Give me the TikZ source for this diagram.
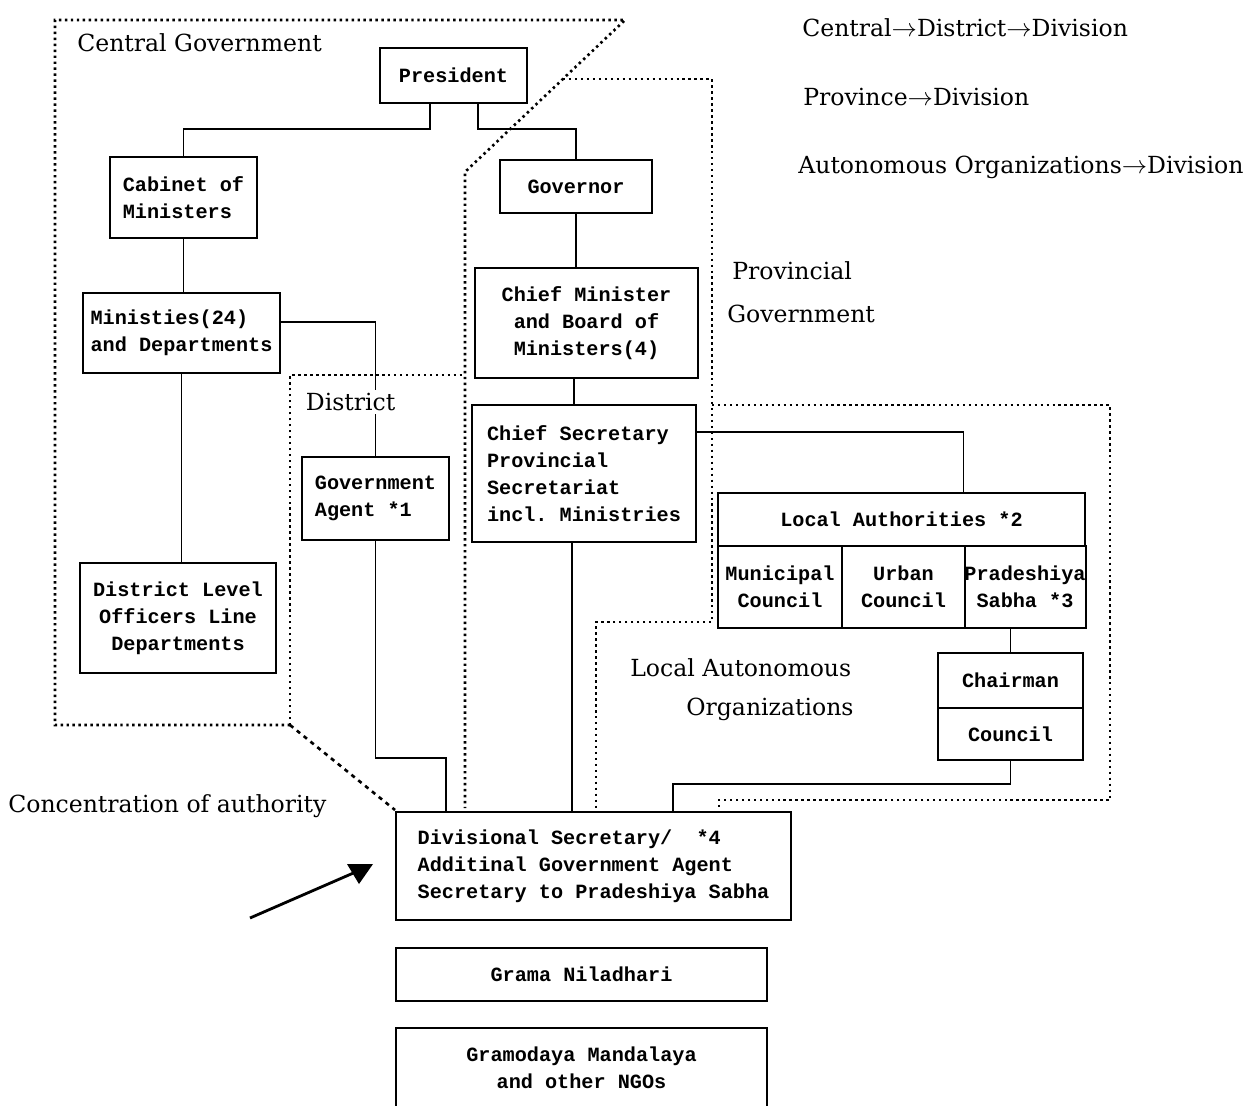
\documentclass[tikz,border=0pt]{standalone}
\usepackage{fontspec}
\setmainfont{DejaVu Serif}
\setmonofont{Liberation Mono}
\usetikzlibrary{arrows.meta}
\newcommand\orgfont{\ttfamily\bfseries\fontsize{11.5}{15.3}\selectfont}
\newcommand\lblfont{\fontsize{13.4}{16}\selectfont}
\tikzset{%
    orgbox/.style={draw, line width=1pt, font=\orgfont, inner sep=1pt, align=center},
    lbl/.style={font=\lblfont, inner sep=0pt, anchor=west},
    link/.style={line width=1pt},
    area/.style={line width=1.5pt, dash pattern=on 1.4pt off 2pt},
    focus/.style={line width=1.5pt, dash pattern=on 2.4pt off 2.6pt}
}
\newcommand\OrgBox[7]{%
    \node[orgbox, minimum width=#4*0.02cm, minimum height=#5*0.02cm, #6] (#1) at (#2,#3) {#7}
}

\begin{document}
\begin{tikzpicture}[x=0.02cm, y=-0.02cm]
      \useasboundingbox (0,0) rectangle (1255,1106);

      % dotted areas
      \draw[area] (290,725) -- (55,725) -- (55,20) -- (625,20) -- (465,172) -- (465,808);
      \draw[area] (290,725) -- (290,375) -- (465,375);
      \draw[area] (563,79) -- (712,79) -- (712,622) -- (596,622) -- (596,808);
      \draw[area] (712,405) -- (1110,405) -- (1110,800) -- (719,800) -- (719,808);
      \draw[focus] (290,725) -- (395,810);

      \OrgBox{pres}{453.5}{75.5}{147}{55}{}{President};
      \OrgBox{cab}{183.5}{197.5}{147}{81}{align=left}{Cabinet of\\Ministers};
      \OrgBox{gov}{576}{186.5}{152}{53}{}{Governor};
      \OrgBox{mins}{181.5}{333}{197}{80}{align=left}{Ministies(24)\\and Departments};
      \OrgBox{chiefmin}{586.5}{323}{223}{110}{}{Chief Minister\\and Board of\\Ministers(4)};
      \OrgBox{gagent}{375.5}{498.5}{147}{83}{align=left}{Government\\Agent *1};
      \OrgBox{chiefsec}{584}{473.5}{224}{137}{align=left}{Chief Secretary\\Provincial\\Secretariat\\incl. Ministries};
      \OrgBox{dlo}{178}{618}{196}{110}{}{District Level\\Officers Line\\Departments};

      \OrgBox{la}{901.5}{519.5}{367}{53}{}{Local Authorities *2};
      \OrgBox{muni}{780}{587}{124}{82}{}{Municipal\\Council};
      \OrgBox{urban}{903.5}{587}{123}{82}{}{Urban\\Council};
      \OrgBox{prad}{1025}{587}{120}{82}{inner sep=0pt}{Pradeshiya\\Sabha *3};
      \OrgBox{chair}{1010.5}{680.5}{145}{55}{}{Chairman};
      \OrgBox{council}{1010.5}{734}{145}{52}{}{Council};

      \OrgBox{divsec}{593.5}{866}{395}{108}{align=left}{Divisional Secretary/\ \ *4\\Additinal Government Agent\\Secretary to Pradeshiya Sabha};
      \OrgBox{grama}{581.5}{974.5}{371}{53}{}{Grama Niladhari};
      \OrgBox{gramo}{581.5}{1068}{371}{80}{}{Gramodaya Mandalaya\\and other NGOs};

      % lines of authority
      \draw[link] ([xshift=-0.47cm]pres.south) -- ++(0,25) -| (cab.north);
      \draw[link] ([xshift=0.49cm]pres.south) -- ++(0,25) -| (gov.north);
      \draw[link] (cab.south) -- (cab.south |- mins.north);
      \draw[link] (mins.south) -- (mins.south |- dlo.north);
      \draw[link] ([yshift=0.22cm]mins.east) -| (gagent.north);
      \draw[link] (gov.south) -- (gov.south |- chiefmin.north);
      \draw[link] ([xshift=-0.2cm]chiefsec.north) -- ++(0,-27);
      \draw[link] ([yshift=0.83cm]chiefsec.east) -| (la.north -| prad.west);
      \draw[link] ([xshift=-0.24cm]chiefsec.south) -- ++(0,270);
      \draw[link] (gagent.south) -- ++(0,217) -| ([xshift=1.02cm]divsec.north west);
      \draw[link] (chair.north) -- (chair.north |- prad.south);
      \draw[link] (council.south) -- ++(0,23) -| ([xshift=-2.38cm]divsec.north east);

      % concentration arrow
      \coordinate (conctail) at (250,918);
      \coordinate (conchead) at (358,871);
      \draw[line width=1.6pt] (conctail) -- (conchead);
      \fill ([shift={(-11,-7)}]conchead) -- ([shift={(15,-7)}]conchead) -- ([shift={(1,13)}]conchead) -- cycle;

      \node[lbl] (centlbl) at (77,43) {Central Government};
      \node[lbl] (flowa) at (802,28) {Central$\rightarrow$District$\rightarrow$Division};
      \node[lbl] (flowb) at (803,97) {Province$\rightarrow$Division};
      \node[lbl] (flowc) at (798,167) {Autonomous Organizations$\rightarrow$Division};
      \node[lbl] (provlbl) at (732,271) {Provincial};
      \node[lbl] (provlblb) at (727,314) {Government};
      \node[lbl, fill=white, inner sep=2pt] (distlbl) at (302,402) {District};
      \node[lbl] (localbl) at (630,668) {Local Autonomous};
      \node[lbl] (localblb) at (686,709) {Organizations};
      \node[lbl] (conclbl) at (8,806) {Concentration of authority};
\end{tikzpicture}
\end{document}
